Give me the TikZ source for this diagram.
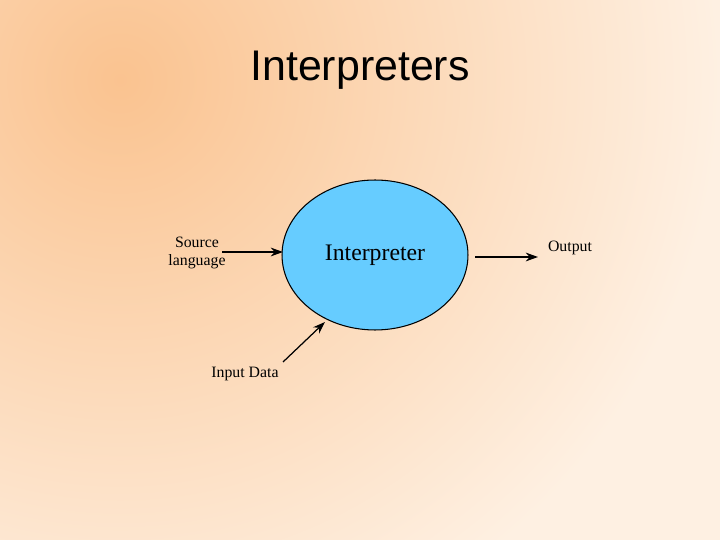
\documentclass[tikz,border=0pt]{standalone}
\usepackage{fontspec}
\setmainfont{Liberation Serif}
\newfontfamily\titlefont{Liberation Sans}
\usetikzlibrary{arrows.meta,shapes.geometric}
\definecolor{bgA}{HTML}{FAC390}
\definecolor{bgC}{HTML}{FEF0E2}
\definecolor{blob}{HTML}{66CCFF}
\tikzset{lab/.style={font=\fontsize{9}{10.5}\selectfont,align=center,inner sep=0pt},
  conn/.style={-{Stealth[length=7pt,width=5pt]},line width=0.7pt}}
\begin{document}
\begin{tikzpicture}[x=0.02cm,y=-0.02cm]
\useasboundingbox (0,0) rectangle (720,540);
\begin{scope}
\clip (0,0) rectangle (720,540);
\fill[bgC] (0,0) rectangle (720,540);
\shade[inner color=bgA,outer color=bgC] (120,80) circle (600);
\end{scope}
\node[font=\titlefont\fontsize{24.4}{28}\selectfont] (title) at (360,70) {Interpreters};
\node[draw=black,line width=0.6pt,fill=blob,ellipse,minimum width=3.72cm,minimum height=3.0cm,inner sep=0pt,font=\fontsize{13.5}{16}\selectfont] (interp) at (375,255) {Interpreter};
\node[lab] (src) at (197,253) {Source\\language};
\node[lab] (inp) at (245,374) {Input Data};
\node[lab] (out) at (570,248) {Output};
\coordinate (a1) at (222,252);
\coordinate (a2) at (283,252);
\coordinate (b1) at (283,362);
\coordinate (b2) at (325,322);
\coordinate (c1) at (475,257);
\coordinate (c2) at (538,257);
\draw[conn] (a1) -- (a2);
\draw[conn] (b1) -- (b2);
\draw[conn] (c1) -- (c2);
\end{tikzpicture}
\end{document}
